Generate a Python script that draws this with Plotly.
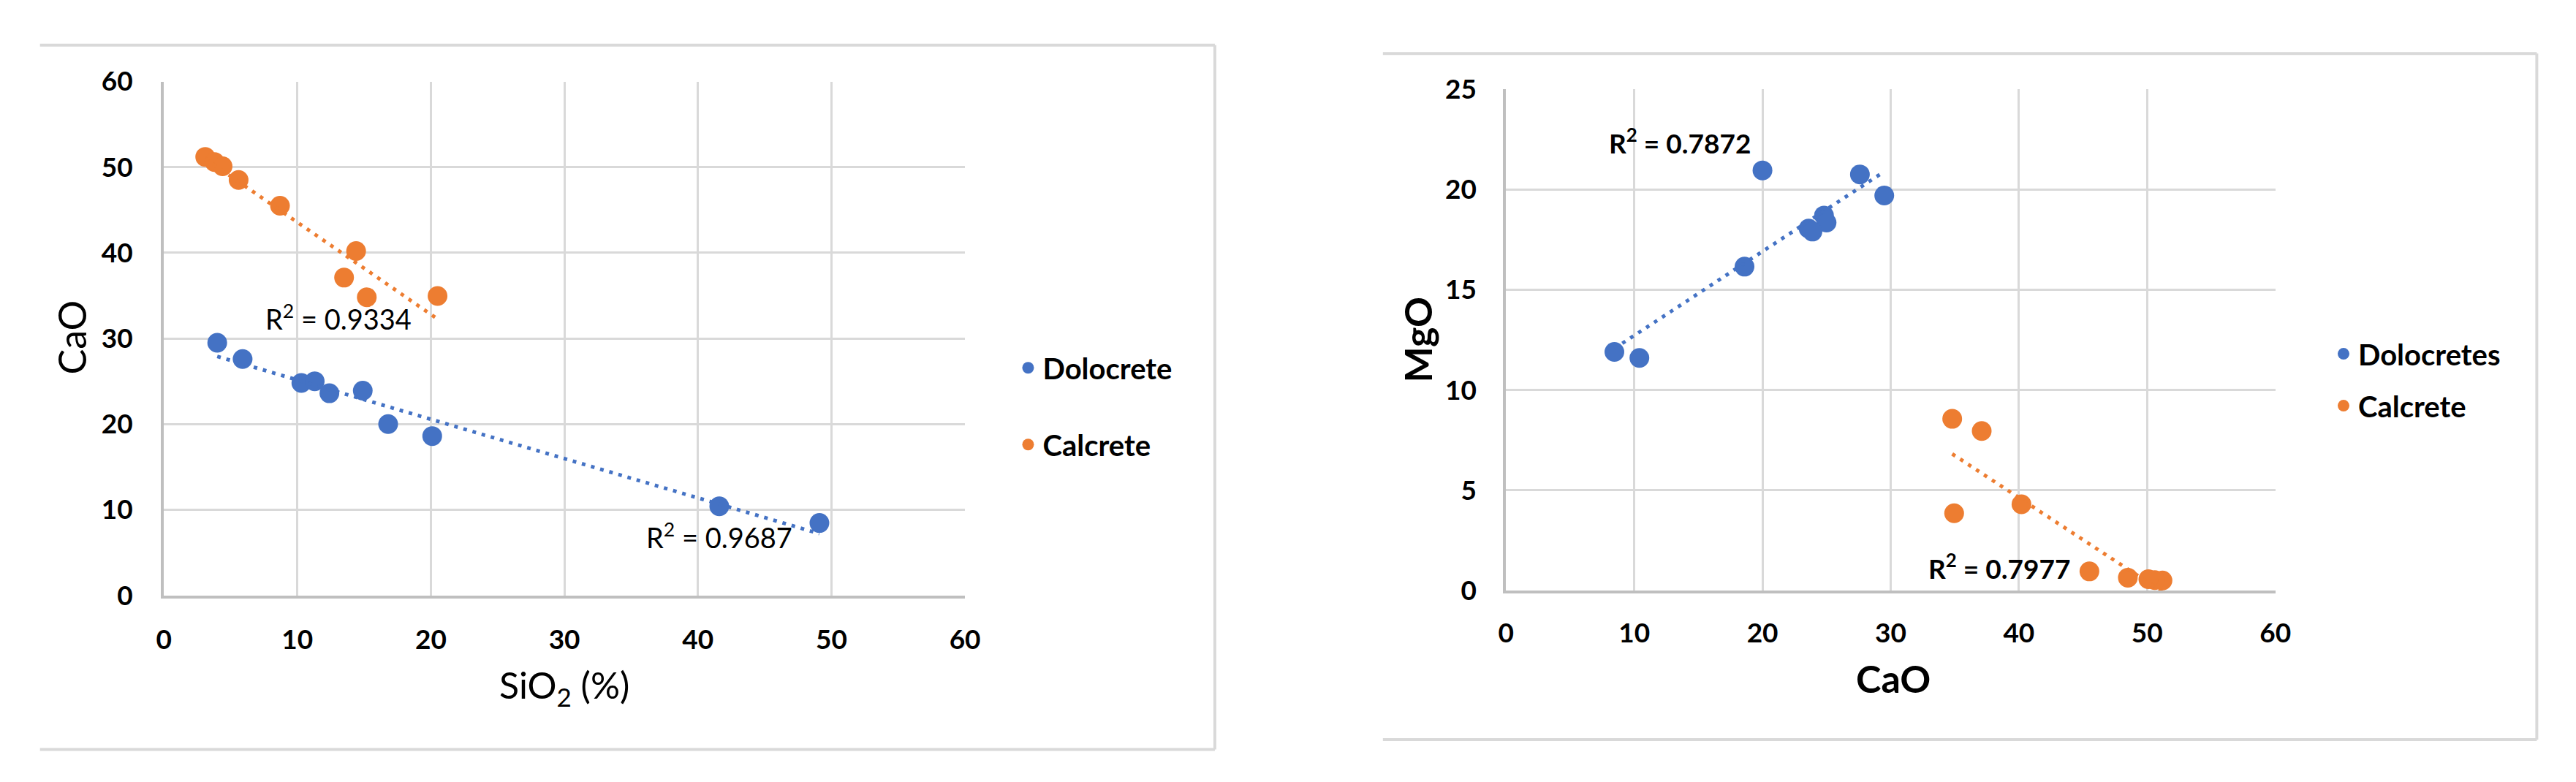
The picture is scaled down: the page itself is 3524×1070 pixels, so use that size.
import numpy as np
import plotly.graph_objects as go

# Dolocrete samples (same sample order)
dolo_sio2 = [4.0, 5.9, 10.3, 11.3, 12.4, 14.9, 16.8, 20.1, 41.6, 49.1]
dolo_cao = [29.5, 27.6, 24.8, 25.0, 23.6, 23.9, 20.0, 18.6, 10.4, 8.45]
dolo_mgo = [19.7, 20.75, 18.7, 18.35, 18.05, 17.9, 20.95, 16.15, 11.6, 11.9]

# Calcrete samples
calc_sio2 = [3.1, 3.8, 4.4, 5.6, 8.7, 14.4, 13.5, 15.2, 20.5]
calc_cao = [51.2, 50.6, 50.1, 48.5, 45.5, 40.2, 37.1, 34.8, 34.95]
calc_mgo = [0.5, 0.52, 0.56, 0.64, 0.95, 4.3, 7.95, 8.56, 3.85]

# R² labels as printed on the chart
r2_left = ["0.9334", "0.9687"]
r2_right = ["0.7872", "0.7977"]

BLUE = "#4472C4"
ORANGE = "#ED7D31"
FONT = "Lato"
W, H = 3524, 1070


def trend(x, y):
    # linear least squares, drawn from min x to max x like an Excel trendline
    k, b = np.polyfit(x, y, 1)
    xs = np.array([min(x), max(x)])
    return xs, k * xs + b


fig = go.Figure()

# --- left panel: CaO vs SiO2
fig.add_trace(go.Scatter(x=dolo_sio2, y=dolo_cao, mode="markers", name="Dolocrete",
                         marker=dict(color=BLUE, size=27), xaxis="x", yaxis="y",
                         legend="legend", legendgroup="d1"))
fig.add_trace(go.Scatter(x=calc_sio2, y=calc_cao, mode="markers", name="Calcrete",
                         marker=dict(color=ORANGE, size=27), xaxis="x", yaxis="y",
                         legend="legend", legendgroup="c1"))
for xs, ys, col in [(dolo_sio2, dolo_cao, BLUE), (calc_sio2, calc_cao, ORANGE)]:
    tx, ty = trend(xs, ys)
    fig.add_trace(go.Scatter(x=tx, y=ty, mode="lines", showlegend=False,
                             line=dict(color=col, width=5, dash="5px,8px"),
                             xaxis="x", yaxis="y", hoverinfo="skip"))

# --- right panel: MgO vs CaO
fig.add_trace(go.Scatter(x=dolo_cao, y=dolo_mgo, mode="markers", name="Dolocretes",
                         marker=dict(color=BLUE, size=27), xaxis="x2", yaxis="y2",
                         legend="legend2", legendgroup="d2"))
fig.add_trace(go.Scatter(x=calc_cao, y=calc_mgo, mode="markers", name="Calcrete",
                         marker=dict(color=ORANGE, size=27), xaxis="x2", yaxis="y2",
                         legend="legend2", legendgroup="c2"))
for xs, ys, col in [(dolo_cao, dolo_mgo, BLUE), (calc_cao, calc_mgo, ORANGE)]:
    tx, ty = trend(xs, ys)
    fig.add_trace(go.Scatter(x=tx, y=ty, mode="lines", showlegend=False,
                             line=dict(color=col, width=5, dash="5px,8px"),
                             xaxis="x2", yaxis="y2", hoverinfo="skip"))

grid = dict(showgrid=True, gridcolor="#D9D9D9", gridwidth=3, zeroline=False,
            showline=True, linecolor="#BFBFBF", linewidth=4, ticks="",
            tickfont=dict(family=FONT, size=37, color="#000000", weight="bold"),
            fixedrange=True)

fig.update_layout(
    width=W, height=H, autosize=False,
    margin=dict(l=0, r=0, t=0, b=0),
    paper_bgcolor="white", plot_bgcolor="white",
    font=dict(family=FONT, color="#000000"),
    xaxis=dict(domain=[207 / W, 1313 / W], range=[0, 60], dtick=10,
               anchor="y", ticklabelstandoff=25, **grid),
    yaxis=dict(domain=[1 - 817 / H, 1 - 83 / H], range=[0, 60], dtick=10,
               anchor="x", ticklabelstandoff=31, **grid),
    xaxis2=dict(domain=[2060 / W, 3122 / W], range=[0, 60], dtick=10,
                anchor="y2", ticklabelstandoff=23, **grid),
    yaxis2=dict(domain=[1 - 810 / H, 1 - 94 / H], range=[0, 25], dtick=5,
                anchor="x2", ticklabelstandoff=29, **grid),
    legend=dict(x=1380 / W, y=1 - 458 / H, xanchor="left", yanchor="top",
                traceorder="grouped", tracegroupgap=50,
                font=dict(family=FONT, size=40, weight="bold"),
                bgcolor="rgba(0,0,0,0)", itemclick=False),
    legend2=dict(x=3196 / W, y=1 - 438 / H, xanchor="left", yanchor="top",
                 traceorder="grouped", tracegroupgap=16,
                 font=dict(family=FONT, size=40, weight="bold"),
                 bgcolor="rgba(0,0,0,0)", itemclick=False),
    showlegend=True,
)

# panel frames (light grey, as in the source figure)
frame = dict(type="line", xref="paper", yref="paper", line=dict(color="#D9D9D9", width=4))
fig.add_shape(x0=36 / W, x1=1658 / W, y0=1 - 31 / H, y1=1 - 31 / H, **frame)
fig.add_shape(x0=36 / W, x1=1658 / W, y0=1 - 1037 / H, y1=1 - 1037 / H, **frame)
fig.add_shape(x0=1658 / W, x1=1658 / W, y0=1 - 31 / H, y1=1 - 1037 / H, **frame)
fig.add_shape(x0=1890 / W, x1=3483 / W, y0=1 - 43 / H, y1=1 - 43 / H, **frame)
fig.add_shape(x0=1890 / W, x1=3483 / W, y0=1 - 1023 / H, y1=1 - 1023 / H, **frame)
fig.add_shape(x0=3483 / W, x1=3483 / W, y0=1 - 43 / H, y1=1 - 1023 / H, **frame)

# axis titles
title_pos = dict(xref="paper", yref="paper", xanchor="center", yanchor="middle",
                 showarrow=False)
fig.add_annotation(text="CaO", x=80 / W, y=1 - 448 / H, textangle=-90,
                   font=dict(family=FONT, size=52), **title_pos)
fig.add_annotation(text="SiO<sub>2</sub> (%)", x=760 / W, y=1 - 948 / H,
                   font=dict(family=FONT, size=50), **title_pos)
fig.add_annotation(text="MgO", x=1938 / W, y=1 - 452 / H, textangle=-90,
                   font=dict(family=FONT, size=52, weight="bold"), **title_pos)
fig.add_annotation(text="CaO", x=2595 / W, y=1 - 935 / H,
                   font=dict(family=FONT, size=52, weight="bold"), **title_pos)

# R² labels
r2_pos = dict(xanchor="left", yanchor="middle", showarrow=False)
fig.add_annotation(text=f"R<sup>2</sup> = {r2_left[0]}", x=7.5, y=32.5, xref="x", yref="y",
                   font=dict(family=FONT, size=38), **r2_pos)
fig.add_annotation(text=f"R<sup>2</sup> = {r2_left[1]}", x=36.0, y=6.95, xref="x", yref="y",
                   font=dict(family=FONT, size=38), **r2_pos)
fig.add_annotation(text=f"R<sup>2</sup> = {r2_right[0]}", x=7.9, y=22.4, xref="x2", yref="y2",
                   font=dict(family=FONT, size=37, weight="bold"), **r2_pos)
fig.add_annotation(text=f"R<sup>2</sup> = {r2_right[1]}", x=32.8, y=1.19, xref="x2", yref="y2",
                   font=dict(family=FONT, size=37, weight="bold"), **r2_pos)

fig.write_html("out.html")
